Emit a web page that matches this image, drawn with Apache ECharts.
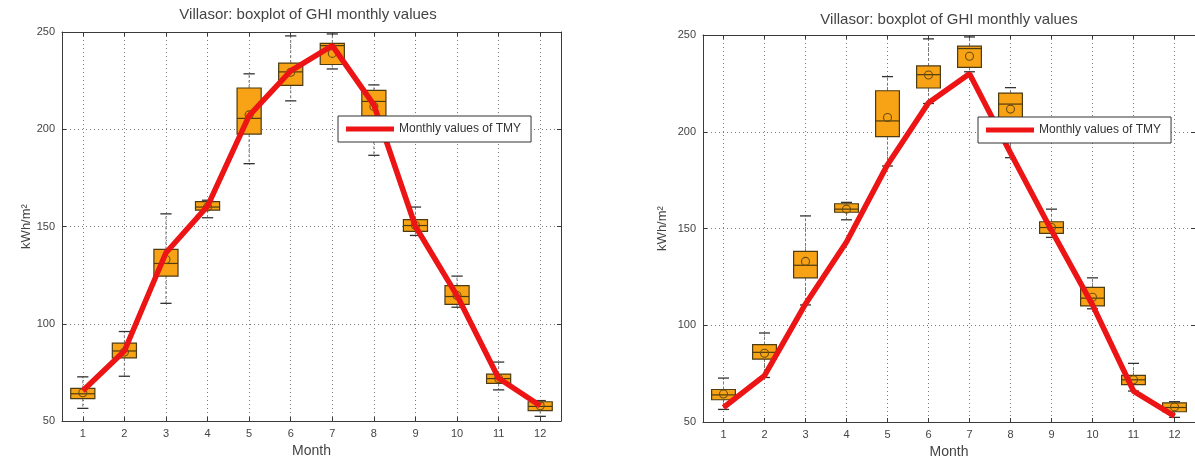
<!DOCTYPE html>
<html>
<head>
<meta charset="utf-8">
<script src="https://cdn.jsdelivr.net/npm/echarts@6/dist/echarts.min.js"></script>
<style>
html,body{margin:0;padding:0;background:#fff;}
#chart{width:1195px;height:464px;}
</style>
</head>
<body>
<div id="chart"></div>
<script>
// ---- data ----
const months = ['1','2','3','4','5','6','7','8','9','10','11','12'];
const boxMin    = [56.5, 73.0, 110.5, 154.5, 182.3, 214.6, 231.0, 186.6, 145.4, 108.5, 66.0, 52.4];
const boxQ1     = [61.5, 82.5, 124.5, 158.4, 197.5, 222.6, 233.3, 206.7, 147.5, 110.0, 69.3, 55.3];
const boxMedian = [64.0, 86.0, 131.0, 160.0, 205.6, 229.5, 243.0, 214.3, 150.5, 114.0, 71.8, 57.5];
const boxQ3     = [66.8, 90.0, 138.2, 162.8, 221.2, 234.0, 244.2, 220.0, 153.5, 119.6, 74.1, 59.9];
const boxMax    = [72.7, 96.0, 156.5, 163.5, 228.5, 248.0, 249.0, 222.8, 160.0, 124.5, 80.3, 60.5];
const boxMean   = [64.5, 85.5, 133.0, 160.0, 207.4, 229.3, 239.0, 211.7, 150.5, 114.5, 71.8, 57.8];
const tmyLeft   = [65.5, 86.0, 136.5, 160.5, 207.0, 230.0, 243.0, 212.5, 150.0, 114.5, 72.0, 57.8];
const tmyRight  = [57.5, 74.0, 111.0, 143.0, 183.0, 215.0, 230.0, 189.0, 149.0, 110.5, 66.0, 53.0];
const yTicks = {min: 50, max: 250, interval: 50};
const titleText = 'Villasor: boxplot of GHI monthly values';
const legendText = 'Monthly values of TMY';
const xName = 'Month';
const yName = 'kWh/m\u00B2';

// ---- build ----
const boxData = months.map((m, i) => [i, boxMin[i], boxQ1[i], boxMedian[i], boxQ3[i], boxMax[i], boxMean[i]]);
const FONT = 'Liberation Sans, Arial, sans-serif';
const AX = '#3a3a3a';
const TXT = '#444';

function renderBox(params, api) {
  const x = api.value(0);
  const pLo = api.coord([x, api.value(1)]);
  const pQ1 = api.coord([x, api.value(2)]);
  const pMed = api.coord([x, api.value(3)]);
  const pQ3 = api.coord([x, api.value(4)]);
  const pHi = api.coord([x, api.value(5)]);
  const pMean = api.coord([x, api.value(6)]);
  const band = api.size([1, 0])[0];
  const bw = band * 0.58;
  const cw = band * 0.27;
  const cx = pQ1[0];
  const edge = '#4d3b12';
  return {
    type: 'group',
    children: [
      {type: 'line', shape: {x1: cx, y1: pQ3[1], x2: cx, y2: pHi[1]}, style: {stroke: '#777', lineWidth: 1, lineDash: [3, 2]}},
      {type: 'line', shape: {x1: cx, y1: pQ1[1], x2: cx, y2: pLo[1]}, style: {stroke: '#777', lineWidth: 1, lineDash: [3, 2]}},
      {type: 'line', shape: {x1: cx - cw / 2, y1: pHi[1], x2: cx + cw / 2, y2: pHi[1]}, style: {stroke: '#333', lineWidth: 1.3}},
      {type: 'line', shape: {x1: cx - cw / 2, y1: pLo[1], x2: cx + cw / 2, y2: pLo[1]}, style: {stroke: '#333', lineWidth: 1.3}},
      {type: 'rect', shape: {x: cx - bw / 2, y: pQ3[1], width: bw, height: pQ1[1] - pQ3[1]}, style: {fill: '#f8a315', stroke: edge, lineWidth: 1.2}},
      {type: 'line', shape: {x1: cx - bw / 2, y1: pMed[1], x2: cx + bw / 2, y2: pMed[1]}, style: {stroke: edge, lineWidth: 1.2}},
      {type: 'circle', shape: {cx: cx, cy: pMean[1], r: 4}, style: {fill: 'none', stroke: '#6a4d10', lineWidth: 1.1}}
    ]
  };
}

function makeGrid(idx, left, top, width, height) {
  return {left: left, top: top, width: width, height: height, show: false};
}

function xAxes(gi) {
  return [
    {
      type: 'category', gridIndex: gi, data: months, boundaryGap: true, position: 'bottom',
      name: xName, nameLocation: 'middle', nameGap: 23,
      nameTextStyle: {fontFamily: FONT, fontSize: 14, color: TXT},
      axisLine: {show: true, lineStyle: {color: AX, width: 1}},
      axisTick: {show: true, inside: true, length: 4, alignWithLabel: true, interval: 0, lineStyle: {color: AX}},
      axisLabel: {show: true, interval: 0, margin: 7, fontFamily: FONT, fontSize: 11, color: TXT},
      splitLine: {show: true, interval: 0, alignWithLabel: true, lineStyle: {color: '#7a7a7a', type: [1, 3], width: 1}}
    },
    {
      type: 'category', gridIndex: gi, data: months, boundaryGap: true, position: 'top',
      axisLine: {show: true, lineStyle: {color: AX, width: 1}},
      axisTick: {show: true, inside: true, length: 4, alignWithLabel: true, interval: 0, lineStyle: {color: AX}},
      axisLabel: {show: false},
      splitLine: {show: false}
    }
  ];
}

function yAxes(gi, nameGap) {
  return [
    {
      type: 'value', gridIndex: gi, position: 'left', min: yTicks.min, max: yTicks.max, interval: yTicks.interval,
      name: yName, nameLocation: 'middle', nameGap: nameGap, nameRotate: 90,
      nameTextStyle: {fontFamily: FONT, fontSize: 13, color: TXT},
      axisLine: {show: true, lineStyle: {color: AX, width: 1}},
      axisTick: {show: true, inside: true, length: 4, lineStyle: {color: AX}},
      axisLabel: {show: true, margin: 7, fontFamily: FONT, fontSize: 11, color: TXT},
      splitLine: {show: true, lineStyle: {color: '#7a7a7a', type: [1, 3], width: 1}}
    },
    {
      type: 'value', gridIndex: gi, position: 'right', min: yTicks.min, max: yTicks.max, interval: yTicks.interval,
      axisLine: {show: true, lineStyle: {color: AX, width: 1}},
      axisTick: {show: true, inside: true, length: 4, lineStyle: {color: AX}},
      axisLabel: {show: false},
      splitLine: {show: false}
    }
  ];
}

const chart = echarts.init(document.getElementById('chart'), null, {renderer: 'canvas'});
const option = {
  backgroundColor: '#ffffff',
  animation: false,
  title: [
    {text: titleText, left: 308, top: 7, textAlign: 'center', padding: 0,
     textStyle: {fontFamily: FONT, fontSize: 15, fontWeight: 'normal', color: TXT}},
    {text: titleText, left: 949, top: 12, textAlign: 'center', padding: 0,
     textStyle: {fontFamily: FONT, fontSize: 15, fontWeight: 'normal', color: TXT}}
  ],
  legend: [
    {left: 338, top: 116, orient: 'horizontal', data: [legendText], icon: 'rect', itemWidth: 48, itemHeight: 5,
     padding: [7, 10, 7, 8], borderColor: '#333', borderWidth: 1, backgroundColor: '#fff', selectedMode: false,
     textStyle: {fontFamily: FONT, fontSize: 12, color: '#333'}},
    {left: 978, top: 117, orient: 'horizontal', data: [legendText], icon: 'rect', itemWidth: 48, itemHeight: 5,
     padding: [7, 10, 7, 8], borderColor: '#333', borderWidth: 1, backgroundColor: '#fff', selectedMode: false,
     textStyle: {fontFamily: FONT, fontSize: 12, color: '#333'}}
  ],
  grid: [
    makeGrid(0, 62, 32, 499, 389),
    makeGrid(1, 703, 35, 493, 387)
  ],
  xAxis: [].concat(xAxes(0), xAxes(1)),
  yAxis: [].concat(yAxes(0, 28), yAxes(1, 34)),
  series: [
    {type: 'custom', name: 'box-left', xAxisIndex: 0, yAxisIndex: 0, data: boxData, renderItem: renderBox,
     encode: {x: 0, y: [1, 2, 3, 4, 5]}, z: 2, clip: false},
    {type: 'line', name: legendText, xAxisIndex: 0, yAxisIndex: 0, data: tmyLeft, symbol: 'none',
     lineStyle: {color: '#ec1414', width: 5.5}, itemStyle: {color: '#ec1414'}, z: 3},
    {type: 'custom', name: 'box-right', xAxisIndex: 2, yAxisIndex: 2, data: boxData, renderItem: renderBox,
     encode: {x: 0, y: [1, 2, 3, 4, 5]}, z: 2, clip: false},
    {type: 'line', name: legendText, xAxisIndex: 2, yAxisIndex: 2, data: tmyRight, symbol: 'none',
     lineStyle: {color: '#ec1414', width: 5.5}, itemStyle: {color: '#ec1414'}, z: 3}
  ]
};
chart.setOption(option);
</script>
</body>
</html>
